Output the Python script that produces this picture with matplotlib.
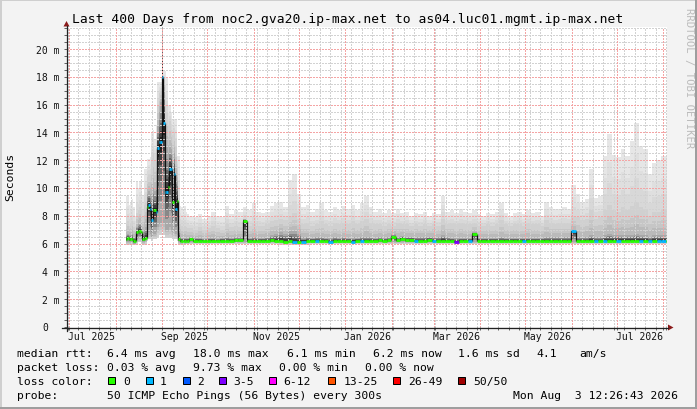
import numpy as np
import matplotlib
matplotlib.use("Agg")
import matplotlib.pyplot as plt
from matplotlib.collections import LineCollection
from matplotlib.patches import Rectangle, Polygon
from matplotlib.lines import Line2D
from matplotlib.transforms import offset_copy
from datetime import datetime, timedelta

# ---------------- data ----------------
# time axis: day offsets from graph start (2025-06-29 12:26:43)
GRAPH_START = datetime(2025, 6, 29, 12, 26, 43)
SPAN_DAYS = 400
days_spike = list(range(39, 81))          # daily bins around the late-August spike
days_flat = list(range(81, 400, 3))       # 3-day bins afterwards

median_spike = [6.3, 6.4, 6.3, 6.3, 6.3, 6.2, 6.2, 6.8, 6.9, 6.9,
                6.8, 6.3, 6.3, 6.4, 8.6, 8.8, 8.5, 7.7, 8.4, 8.4,
                8.3, 12.9, 13.3, 13.3, 18.0, 14.7, 9.7, 9.7, 10.1, 11.4,
                11.4, 9.0, 11.0, 8.5, 9.1, 6.3, 6.2, 6.2, 6.2, 6.2,
                6.2, 6.2]
loss_spike = [0, 0, 0, 0, 0, 0, 0, 0, 0, 0,
              0, 0, 0, 0, 0, 1, 1, 1, 0, 0,
              1, 1, 1, 1, 1, 1, 1, 1, 0, 1,
              1, 0, 1, 1, 0, 0, 0, 0, 0, 0,
              0, 0]
min_spike = [5.9, 5.9, 5.9, 5.9, 5.9, 5.9, 5.9, 6.0, 6.1, 6.1,
             6.0, 5.9, 5.9, 6.0, 6.2, 6.3, 6.3, 6.2, 6.3, 6.3,
             6.3, 6.5, 6.6, 6.6, 6.8, 6.6, 6.4, 6.4, 6.4, 6.4,
             6.4, 6.3, 6.3, 6.3, 6.2, 5.9, 5.9, 5.9, 5.9, 5.9,
             5.95, 5.95]
corelo_spike = [6.1, 6.1, 6.1, 6.1, 6.1, 6.0, 6.0, 6.3, 6.4, 6.4,
                6.3, 6.1, 6.1, 6.2, 6.6, 6.8, 6.7, 6.5, 6.7, 6.7,
                6.8, 7.2, 7.4, 7.4, 8.0, 7.5, 7.0, 7.0, 7.0, 7.2,
                7.0, 6.8, 6.9, 6.7, 6.6, 6.1, 6.05, 6.05, 6.05, 6.05,
                6.05, 6.05]
corehi_spike = [6.6, 6.7, 6.6, 6.6, 6.7, 6.5, 6.5, 7.2, 7.4, 7.5,
                7.3, 6.8, 7.0, 7.2, 9.6, 9.8, 9.6, 9.6, 10.0, 9.8,
                10.5, 14.5, 15.5, 16.2, 22.0, 17.0, 13.5, 13.0, 12.5, 13.0,
                12.8, 12.0, 12.5, 11.0, 10.5, 6.9, 6.5, 6.4, 6.4, 6.4,
                6.4, 6.4]
p90_spike = [7.4, 7.6, 7.3, 7.5, 7.6, 7.2, 7.0, 8.2, 8.4, 8.6,
             8.4, 8.0, 8.8, 9.0, 10.8, 11.0, 11.0, 12.0, 12.5, 12.0,
             12.8, 16.0, 16.8, 17.0, 22.0, 17.8, 16.0, 15.5, 14.5, 14.8,
             14.2, 13.8, 14.0, 13.0, 11.5, 8.0, 7.4, 7.3, 7.2, 7.3,
             7.2, 7.1]
max_spike = [9.4, 9.4, 8.8, 9.0, 9.2, 8.6, 8.0, 10.5, 10.0, 10.4,
             10.5, 9.5, 11.4, 11.4, 12.1, 12.1, 12.2, 14.0, 14.2, 13.5,
             14.5, 17.6, 17.6, 17.6, 22.0, 18.4, 18.4, 18.0, 16.0, 16.0,
             15.5, 15.0, 15.0, 15.0, 12.3, 12.3, 8.7, 8.6, 8.4, 8.7,
             8.3, 8.1]

median_flat = [6.3, 6.2, 6.2, 6.2, 6.2, 6.2, 6.2, 6.2, 6.2, 6.2,
               6.25, 6.25, 7.65, 6.2, 6.2, 6.2, 6.2, 6.2, 6.25, 6.2,
               6.2, 6.15, 6.2, 6.1, 6.1, 6.15, 6.2, 6.2, 6.2, 6.2,
               6.2, 6.15, 6.2, 6.2, 6.2, 6.2, 6.15, 6.2, 6.2, 6.2,
               6.2, 6.2, 6.25, 6.2, 6.25, 6.45, 6.25, 6.35, 6.25, 6.25,
               6.2, 6.2, 6.2, 6.25, 6.2, 6.2, 6.2, 6.2, 6.2, 6.15,
               6.2, 6.2, 6.2, 6.7, 6.2, 6.2, 6.2, 6.2, 6.2, 6.2,
               6.2, 6.2, 6.2, 6.2, 6.2, 6.2, 6.2, 6.2, 6.2, 6.2,
               6.2, 6.2, 6.2, 6.2, 6.2, 6.9, 6.2, 6.2, 6.2, 6.2,
               6.2, 6.2, 6.2, 6.2, 6.2, 6.2, 6.2, 6.2, 6.2, 6.2,
               6.2, 6.2, 6.2, 6.2, 6.2, 6.2, 6.2]
loss_flat = [0, 0, 0, 0, 0, 0, 0, 0, 0, 0,
             0, 0, 0, 0, 0, 0, 0, 0, 0, 0,
             0, 0, 0, 1, 0, 1, 0, 0, 1, 0,
             0, 1, 0, 0, 0, 0, 1, 0, 1, 0,
             0, 0, 0, 0, 0, 0, 0, 0, 0, 0,
             1, 0, 0, 0, 1, 0, 0, 0, 0, 3,
             0, 0, 1, 0, 0, 0, 0, 0, 0, 0,
             0, 0, 0, 0, 1, 0, 0, 0, 0, 0,
             0, 0, 0, 0, 0, 1, 0, 0, 0, 0,
             1, 0, 1, 0, 0, 1, 0, 0, 0, 0,
             1, 0, 1, 0, 1, 1, 0]
min_flat = [5.95, 5.95, 5.95, 5.95, 5.95, 5.95, 5.95, 5.95, 5.95, 5.95,
            5.95, 5.95, 5.95, 5.95, 5.95, 5.95, 5.95, 5.95, 5.95, 5.95,
            5.9, 5.9, 5.9, 5.9, 5.9, 5.9, 5.9, 5.95, 5.95, 5.95,
            5.95, 5.95, 5.95, 5.95, 5.95, 5.95, 5.95, 5.95, 5.95, 5.95,
            5.95, 5.95, 5.95, 5.95, 5.95, 5.95, 5.95, 5.95, 5.95, 5.95,
            5.95, 5.95, 5.95, 5.95, 5.95, 5.95, 5.95, 5.95, 5.95, 5.95,
            5.95, 5.95, 5.95, 5.95, 5.95, 5.95, 5.95, 5.95, 5.95, 5.95,
            5.95, 5.95, 5.95, 5.95, 5.95, 5.95, 5.95, 5.95, 5.95, 5.95,
            5.95, 5.95, 5.95, 5.95, 5.95, 5.95, 5.95, 5.95, 5.95, 5.95,
            5.95, 5.95, 5.95, 5.95, 5.95, 5.95, 5.95, 5.95, 5.95, 5.95,
            5.95, 5.95, 5.95, 5.95, 5.95, 5.95, 5.95]
corelo_flat = [6.1, 6.1, 6.1, 6.1, 6.1, 6.1, 6.1, 6.1, 6.1, 6.1,
               6.1, 6.1, 6.1, 6.1, 6.1, 6.1, 6.1, 6.1, 6.1, 6.1,
               6.1, 6.05, 6.1, 6.0, 6.0, 6.05, 6.1, 6.1, 6.1, 6.1,
               6.1, 6.05, 6.1, 6.1, 6.1, 6.1, 6.05, 6.1, 6.1, 6.1,
               6.1, 6.1, 6.1, 6.1, 6.1, 6.1, 6.1, 6.1, 6.1, 6.1,
               6.1, 6.1, 6.1, 6.1, 6.1, 6.1, 6.1, 6.1, 6.1, 6.05,
               6.1, 6.1, 6.1, 6.1, 6.1, 6.1, 6.1, 6.1, 6.1, 6.1,
               6.1, 6.1, 6.1, 6.1, 6.1, 6.1, 6.1, 6.1, 6.1, 6.1,
               6.1, 6.1, 6.1, 6.1, 6.1, 6.1, 6.1, 6.1, 6.1, 6.1,
               6.1, 6.1, 6.1, 6.1, 6.1, 6.1, 6.1, 6.1, 6.1, 6.1,
               6.1, 6.1, 6.1, 6.1, 6.1, 6.1, 6.1]
corehi_flat = [6.45, 6.4, 6.4, 6.35, 6.4, 6.4, 6.35, 6.4, 6.45, 6.4,
               6.45, 6.45, 7.75, 6.4, 6.45, 6.4, 6.4, 6.45, 6.6, 6.7,
               6.8, 6.7, 6.9, 6.9, 6.7, 6.45, 6.45, 6.4, 6.45, 6.45,
               6.4, 6.4, 6.45, 6.4, 6.45, 6.4, 6.45, 6.4, 6.45, 6.5,
               6.45, 6.4, 6.45, 6.4, 6.45, 6.7, 6.45, 6.55, 6.5, 6.5,
               6.45, 6.5, 6.45, 6.5, 6.45, 6.45, 6.6, 6.45, 6.4, 6.4,
               6.4, 6.4, 6.4, 6.8, 6.4, 6.4, 6.4, 6.4, 6.4, 6.45,
               6.4, 6.4, 6.4, 6.4, 6.4, 6.4, 6.4, 6.4, 6.4, 6.45,
               6.45, 6.45, 6.45, 6.45, 6.45, 7.0, 6.5, 6.5, 6.5, 6.6,
               6.5, 6.5, 6.6, 6.7, 6.6, 6.6, 6.6, 6.6, 6.6, 6.7,
               6.6, 6.6, 6.5, 6.6, 6.6, 6.6, 6.6]
p90_flat = [7.1, 7.0, 7.2, 7.0, 7.1, 7.3, 7.1, 7.0, 7.4, 7.2,
            7.3, 7.2, 7.8, 7.3, 7.5, 7.3, 7.3, 7.4, 7.6, 7.7,
            7.8, 7.7, 8.0, 8.2, 7.8, 7.4, 7.5, 7.3, 7.4, 7.6,
            7.4, 7.3, 7.5, 7.4, 7.5, 7.4, 7.6, 7.4, 7.6, 7.8,
            7.5, 7.4, 7.4, 7.3, 7.4, 7.3, 7.5, 7.4, 7.4, 7.3,
            7.4, 7.3, 7.4, 7.3, 7.4, 7.3, 7.8, 7.4, 7.5, 7.4,
            7.5, 7.4, 7.4, 7.5, 7.3, 7.3, 7.4, 7.3, 7.4, 7.7,
            7.4, 7.3, 7.4, 7.4, 7.3, 7.5, 7.4, 7.4, 7.3, 7.7,
            7.5, 7.4, 7.5, 7.5, 7.5, 8.0, 7.9, 7.7, 7.8, 8.4,
            7.8, 7.9, 8.4, 8.8, 8.4, 8.3, 8.6, 8.4, 8.7, 9.0,
            8.6, 8.5, 8.0, 8.3, 8.3, 8.4, 8.4]
max_flat = [8.0, 7.9, 8.1, 7.8, 8.0, 8.3, 8.0, 7.9, 8.7, 8.1,
            8.4, 8.3, 8.6, 8.4, 8.9, 8.3, 8.2, 8.3, 8.7, 8.9,
            9.0, 8.6, 10.6, 11.0, 9.6, 8.6, 8.8, 8.3, 8.5, 8.9,
            8.4, 8.3, 8.6, 8.4, 8.7, 8.5, 8.8, 8.4, 8.9, 9.4,
            8.6, 8.3, 8.5, 8.2, 8.4, 8.2, 8.5, 8.2, 8.3, 8.0,
            8.2, 8.1, 8.3, 8.0, 8.2, 8.1, 9.4, 8.3, 8.4, 8.2,
            8.5, 8.3, 8.2, 8.4, 8.1, 8.0, 8.2, 8.1, 8.3, 8.9,
            8.2, 8.0, 8.2, 8.3, 8.1, 8.4, 8.2, 8.3, 8.0, 9.0,
            8.6, 8.5, 8.5, 8.6, 8.5, 10.2, 9.6, 9.0, 9.2, 11.4,
            9.3, 9.4, 12.3, 13.9, 12.4, 12.2, 12.8, 12.3, 13.4, 14.7,
            13.0, 12.8, 11.0, 11.8, 12.0, 12.3, 12.2]

loss_classes = [0, 1, 2, 3, 6, 13, 26, 50]
loss_labels = ["0", "1", "2", "3-5", "6-12", "13-25", "26-49", "50/50"]
loss_colors = ["#26ff00", "#00b8ff", "#0059ff", "#7e00ff",
               "#ff00ff", "#ff5500", "#ff0000", "#a00000"]

y_ticks = [0, 2, 4, 6, 8, 10, 12, 14, 16, 18, 20]
x_label_months = [(2025, 7), (2025, 9), (2025, 11), (2026, 1), (2026, 3), (2026, 5), (2026, 7)]

title = "Last 400 Days from noc2.gva20.ip-max.net to as04.luc01.mgmt.ip-max.net"
legend_rows = [
    (357.5, [("median rtt:", 16.7), ("6.4 ms avg", 107.3), ("18.0 ms max", 193.3),
             ("6.1 ms min", 286.7), ("6.2 ms now", 373.3), ("1.6 ms sd", 458.3),
             ("4.1", 536.7), ("am/s", 579.3)]),
    (371.5, [("packet loss:", 16.7), ("0.03 % avg", 107.3), ("9.73 % max", 193.3),
             ("0.00 % min", 279.3), ("0.00 % now", 365.0)]),
    (399.5, [("probe:", 16.7), ("50 ICMP Echo Pings (56 Bytes) every 300s", 107.3),
             ("Mon Aug  3 12:26:43 2026", 513.3)]),
]
swatch_x = [108.3, 145.7, 182.7, 219.3, 269.3, 328.3, 393.3, 458.3]
swatch_label_x = [123.3, 160.0, 197.3, 233.3, 283.3, 343.3, 408.3, 473.3]

# ---------------- figure ----------------
W, H, DPI = 697, 410, 100
MONO = "DejaVu Sans Mono"
fig = plt.figure(figsize=(W / DPI, H / DPI), dpi=DPI, facecolor="#f3f3f3")

# background overlay (pixel coordinates)
bg = fig.add_axes([0, 0, 1, 1], zorder=-5)
bg.set_xlim(0, W); bg.set_ylim(H, 0); bg.axis("off")
bg.add_patch(Rectangle((0, 0), W, H, facecolor="#f3f3f3", edgecolor="none"))
bg.add_patch(Rectangle((0, 0), W, 2, facecolor="#cfcfcf", edgecolor="none"))
bg.add_patch(Rectangle((0, 0), 2, H, facecolor="#cfcfcf", edgecolor="none"))
bg.add_patch(Rectangle((W - 2, 0), 2, H, facecolor="#9e9e9e", edgecolor="none"))
bg.add_patch(Rectangle((0, H - 2), W, 2, facecolor="#9e9e9e", edgecolor="none"))

PL, PR, PT, PB = 67, 667, 28, 328
PX_PER_MS = 13.9
ax = fig.add_axes([PL / W, (H - PB) / H, (PR - PL) / W, (PB - PT) / H], zorder=0)
ax.set_facecolor("white")
ax.set_xlim(0, SPAN_DAYS)
ax.set_ylim(0, (PB - PT) / PX_PER_MS)
for s in ax.spines.values():
    s.set_visible(False)

days = np.array(days_spike + days_flat, dtype=float)
med = np.array(median_spike + median_flat)
loss = np.array(loss_spike + loss_flat)
lo = np.array(min_spike + min_flat)
clo = np.array(corelo_spike + corelo_flat)
chi = np.array(corehi_spike + corehi_flat)
p90 = np.array(p90_spike + p90_flat)
hi = np.array(max_spike + max_flat)

edges = np.append(days, SPAN_DAYS)
def st(a):
    return np.append(a, a[-1])

# smoke layers (outer light -> inner dark)
for g, c in [(1.0, "#e6e6e6"), (0.6, "#dfdfdf"), (0.3, "#d8d8d8")]:
    ax.fill_between(edges, st(lo), st(p90 + (hi - p90) * g), step="post",
                    color=c, lw=0, zorder=1)
for f, c in [(1.0, "#d0d0d0"), (0.6, "#c6c6c6"), (0.3, "#bababa")]:
    ax.fill_between(edges, st(clo - (clo - lo) * f), st(chi + (p90 - chi) * f),
                    step="post", color=c, lw=0, zorder=1)
for f, c in [(1.0, "#a8a8a8"), (0.72, "#888888"), (0.48, "#646464"),
             (0.28, "#404040"), (0.12, "#222222")]:
    ax.fill_between(edges, st(med - (med - clo) * f), st(med + (chi - med) * f),
                    step="post", color=c, lw=0, zorder=1)

# grid
def dday(dt):
    return (dt - GRAPH_START).total_seconds() / 86400.0

month_lines = []
for y, m in [(2025, 7), (2025, 8), (2025, 9), (2025, 10), (2025, 11), (2025, 12),
             (2026, 1), (2026, 2), (2026, 3), (2026, 4), (2026, 5), (2026, 6),
             (2026, 7), (2026, 8)]:
    month_lines.append(dday(datetime(y, m, 1)))
week_lines = []
t = datetime(2025, 6, 30)
while dday(t) < SPAN_DAYS:
    week_lines.append(dday(t))
    t += timedelta(days=7)

ymax = (PB - PT) / PX_PER_MS
minor_y = [v for v in np.arange(0.5, ymax, 0.5) if abs(v % 2) > 1e-6]
major_y = [v for v in y_ticks if v > 0]
dot = (0, (1.39, 1.39))
gkw = dict(linestyles=dot, lw=0.72, zorder=2, antialiased=False)
ax.vlines(week_lines, 0, ymax, colors="#d2d2d2", **gkw)
ax.hlines(minor_y, 0, SPAN_DAYS, colors="#d2d2d2", **gkw)
ax.vlines(month_lines, 0, ymax, colors="#f4a4a4", **gkw)
ax.hlines(major_y, 0, SPAN_DAYS, colors="#f4a4a4", **gkw)

# median line coloured by loss
def lcolor(v):
    idx = 0
    for i, th in enumerate(loss_classes):
        if v >= th:
            idx = i
    return loss_colors[idx]

vsegs = []
for i in range(len(days) - 1):
    if med[i] != med[i + 1]:
        vsegs.append([(edges[i + 1], med[i]), (edges[i + 1], med[i + 1])])
ax.add_collection(LineCollection(vsegs, colors="#111111", linewidths=0.9, zorder=3))
hsegs = [[(edges[i], med[i]), (edges[i + 1], med[i])] for i in range(len(days))]
hcols = [lcolor(v) for v in loss]
ax.add_collection(LineCollection(hsegs, colors=hcols, linewidths=2.0,
                                 capstyle="butt", zorder=4))

# ticks
ax.set_xticks(sorted(set(month_lines + week_lines)))
ax.set_xticklabels([])
ax.set_yticks(list(np.arange(0, ymax, 0.5)))
ax.set_yticklabels([])
ax.tick_params(axis="both", length=2, width=0.72, color="#666666", direction="out")

# tick labels
ytr = offset_copy(ax.get_yaxis_transform(), fig=fig, x=-7, y=-3.5, units="dots")
for v in y_ticks:
    if v == 0:
        tr0 = offset_copy(ax.get_yaxis_transform(), fig=fig, x=-24.3, y=-3.5, units="dots")
        ax.text(0, v, "0", transform=tr0, ha="left", va="baseline",
                family=MONO, fontsize=7, color="#111111")
    else:
        ax.text(0, v, f"{v} m", transform=ytr, ha="right", va="baseline",
                family=MONO, fontsize=7, color="#111111")
xtr = offset_copy(ax.get_xaxis_transform(), fig=fig, x=0, y=-12.5, units="dots")
for y, m in x_label_months:
    ax.text(dday(datetime(y, m, 16)), 0, datetime(y, m, 1).strftime("%b %Y"),
            transform=xtr, ha="center", va="baseline", family=MONO,
            fontsize=7, color="#111111")

# foreground overlay: axes lines, arrows, texts
ov = fig.add_axes([0, 0, 1, 1], zorder=10)
ov.set_xlim(0, W); ov.set_ylim(H, 0); ov.axis("off")
ov.patch.set_alpha(0)
ov.add_line(Line2D([62, 668], [328.5, 328.5], color="#222222", lw=0.9))
ov.add_line(Line2D([66.5, 66.5], [332, 27], color="#222222", lw=0.9))
ov.add_patch(Polygon([(668, 325.5), (673.5, 328.5), (668, 331.5)], closed=True,
                     facecolor="#8b1a1a", edgecolor="none"))
ov.add_patch(Polygon([(63.5, 27.5), (66.5, 22), (69.5, 27.5)], closed=True,
                     facecolor="#8b1a1a", edgecolor="none"))

ov.text(348, 23.5, title, ha="center", va="baseline", family=MONO,
        fontsize=9.4, color="#000000")
ov.text(10.5, 177, "Seconds", rotation=90, ha="center", va="center",
        family=MONO, fontsize=8.2, color="#000000")
ov.text(689, 8, "RRDTOOL / TOBI OETIKER", rotation=270, ha="center", va="top",
        family=MONO, fontsize=7.6, color="#bcbcbc")

for yb, items in legend_rows:
    for txt, x in items:
        ov.text(x, yb, txt, ha="left", va="baseline", family=MONO,
                fontsize=8.2, color="#000000")
ov.text(16.7, 385.5, "loss color:", ha="left", va="baseline", family=MONO,
        fontsize=8.2, color="#000000")
for sx, lx, c, lab in zip(swatch_x, swatch_label_x, loss_colors, loss_labels):
    ov.add_patch(Rectangle((sx, 377.5), 7, 7, facecolor=c, edgecolor="#000000", lw=0.72))
    ov.text(lx, 385.5, lab, ha="left", va="baseline", family=MONO,
            fontsize=8.2, color="#000000")

fig.savefig("out.png", dpi=DPI, facecolor=fig.get_facecolor())
